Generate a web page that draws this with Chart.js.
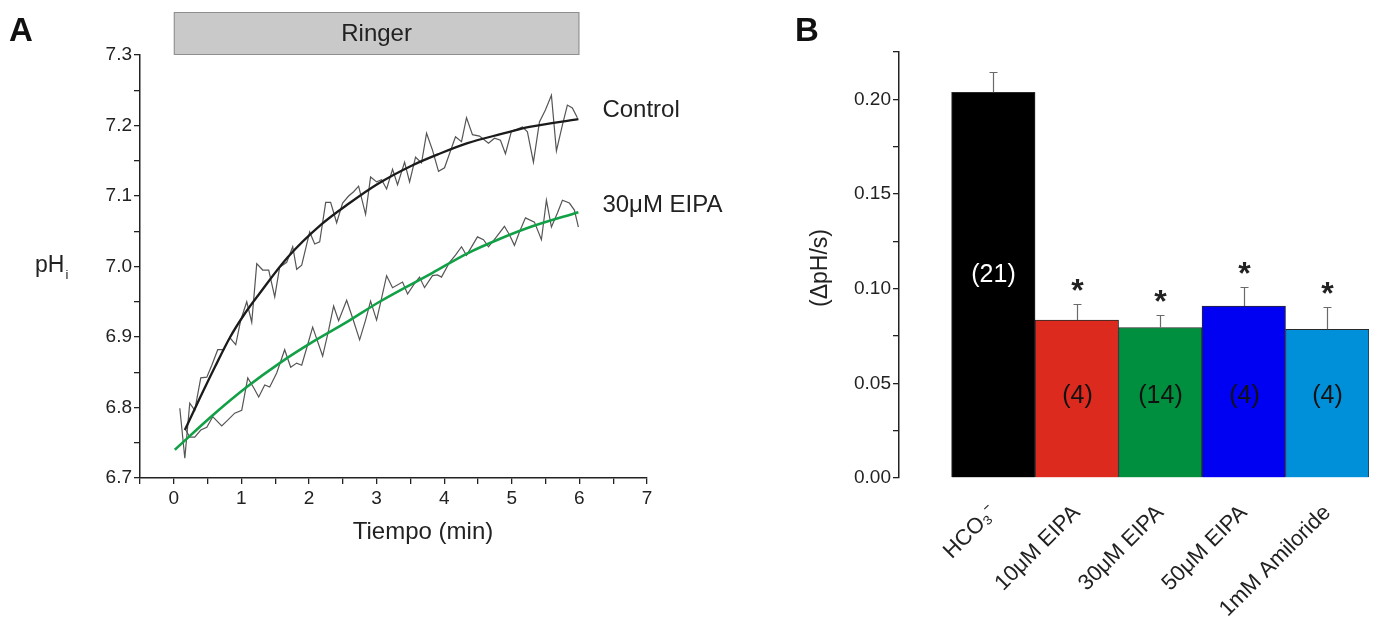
<!DOCTYPE html>
<html>
<head>
<meta charset="utf-8">
<script src="https://cdn.jsdelivr.net/npm/chart.js@4.4.1/dist/chart.umd.min.js"></script>
<style>
  html, body { margin: 0; padding: 0; background: #fff; }
  #wrap { position: relative; width: 1374px; height: 628px; overflow: hidden; background: #fff; }
  #cA { position: absolute; left: 0; top: 0; }
  #cB { position: absolute; left: 700px; top: 0; }
  .panel { position: absolute; font: bold 33px "Liberation Sans", Arial, sans-serif; color: #111; line-height: 1; }
</style>
</head>
<body>
<div id="wrap">
  <canvas id="cA" width="790" height="628"></canvas>
  <canvas id="cB" width="674" height="628"></canvas>
  <div class="panel" style="left:9px;top:13px">A</div>
  <div class="panel" style="left:795px;top:13px">B</div>
</div>
<script>
// ---- Panel A: pHi recovery traces (time in min) ----
const ctrlTime = [0.089,0.163,0.236,0.310,0.399,0.488,0.562,0.650,0.739,0.828,0.916,0.990,1.079,1.153,1.227,1.315,1.404,1.493,1.566,1.670,1.759,1.818,1.892,2.010,2.084,2.158,2.247,2.320,2.409,2.497,2.586,2.660,2.734,2.837,2.911,3.000,3.074,3.148,3.236,3.310,3.414,3.488,3.576,3.665,3.739,3.827,3.916,4.005,4.167,4.256,4.330,4.418,4.522,4.655,4.744,4.832,4.906,4.995,5.083,5.157,5.231,5.320,5.409,5.497,5.586,5.660,5.749,5.822,5.896,5.970];
const ctrlPH = [6.799,6.728,6.806,6.796,6.842,6.843,6.860,6.882,6.882,6.899,6.889,6.924,6.950,6.921,7.004,6.995,6.995,6.957,6.999,7.006,7.028,6.996,7.002,7.049,7.032,7.035,7.091,7.091,7.062,7.090,7.100,7.106,7.114,7.074,7.127,7.120,7.123,7.110,7.138,7.116,7.148,7.120,7.155,7.147,7.189,7.165,7.135,7.140,7.184,7.177,7.211,7.187,7.185,7.175,7.182,7.179,7.160,7.192,7.195,7.198,7.191,7.148,7.205,7.222,7.243,7.164,7.201,7.229,7.225,7.211];

const eipaTime = [0.177,0.236,0.310,0.399,0.488,0.576,0.709,0.798,0.901,1.005,1.094,1.182,1.256,1.345,1.419,1.522,1.640,1.729,1.818,1.892,1.980,2.054,2.202,2.291,2.364,2.438,2.557,2.645,2.749,2.837,2.911,3.000,3.074,3.148,3.236,3.384,3.458,3.547,3.635,3.709,3.827,3.901,3.960,4.079,4.167,4.256,4.330,4.418,4.492,4.581,4.655,4.773,4.891,4.965,5.039,5.113,5.202,5.335,5.438,5.512,5.586,5.675,5.749,5.852,5.926,5.985];
const eipaPH = [6.768,6.758,6.758,6.768,6.772,6.787,6.774,6.782,6.792,6.796,6.842,6.828,6.815,6.832,6.829,6.849,6.882,6.857,6.863,6.860,6.889,6.914,6.873,6.910,6.944,6.923,6.952,6.927,6.896,6.924,6.951,6.924,6.955,6.987,6.970,6.978,6.961,6.974,6.985,6.970,6.987,6.988,6.985,7.006,7.016,7.028,7.016,7.030,7.042,7.038,7.028,7.042,7.057,7.045,7.030,7.049,7.069,7.063,7.038,7.094,7.056,7.076,7.094,7.090,7.080,7.056];

// fitted recovery curves
const ctrlFitTime = [0.163,0.384,0.606,0.828,1.049,1.271,1.685,2.187,2.601,3.015,3.517,3.931,4.345,4.847,5.261,5.985];
const ctrlFitPH = [6.768,6.813,6.857,6.899,6.933,6.962,7.013,7.060,7.090,7.117,7.143,7.160,7.175,7.188,7.198,7.209];
const eipaFitTime = [0.015,0.576,1.079,1.566,2.054,2.557,3.044,3.827,4.330,4.818,5.305,5.985];
const eipaFitPH = [6.740,6.789,6.829,6.863,6.893,6.921,6.950,6.991,7.018,7.039,7.057,7.077];

const seriesNames = ['Control', '30μM EIPA'];
const ringerPeriod = [0, 6];

// ---- Panel B: recovery rate per condition ----
const categories = ['HCO₃⁻', '10μM EIPA', '30μM EIPA', '50μM EIPA', '1mM Amiloride'];
const rates = [0.2037, 0.0834, 0.0795, 0.0908, 0.0785];
const rateSEM = [0.0105, 0.0084, 0.0065, 0.0100, 0.0117];
const nCells = ['(21)', '(4)', '(14)', '(4)', '(4)'];
const significant = [false, true, true, true, true];
const barColors = ['#000000', '#dc2a1f', '#008f3e', '#0000f2', '#0090da'];

const FONT = '"Liberation Sans", Arial, sans-serif';
Chart.defaults.font.family = FONT;
Chart.defaults.color = '#222';

const pts = (xs, ys) => xs.map((t, i) => ({ x: t, y: ys[i] }));
const near = (v, step) => Math.abs(v / step - Math.round(v / step)) < 1e-6;

const panelAOverlay = {
  id: 'panelAOverlay',
  afterDraw(chart) {
    const { ctx, chartArea, scales: { x, y } } = chart;
    ctx.save();
    // solution bar
    const x0 = x.getPixelForValue(ringerPeriod[0]);
    const x1 = x.getPixelForValue(ringerPeriod[1]);
    ctx.fillStyle = '#c9c9c9';
    ctx.strokeStyle = '#8e8e8e';
    ctx.lineWidth = 1;
    ctx.fillRect(x0, 12, x1 - x0, chartArea.top - 12);
    ctx.strokeRect(x0 + 0.5, 12.5, x1 - x0 - 1, chartArea.top - 13);
    ctx.fillStyle = '#222';
    ctx.font = '24px ' + FONT;
    ctx.textAlign = 'center';
    ctx.textBaseline = 'middle';
    ctx.fillText('Ringer', (x0 + x1) / 2, 34);

    // series names
    ctx.textAlign = 'left';
    ctx.font = '24px ' + FONT;
    ctx.fillText(seriesNames[0], x.getPixelForValue(6.34), y.getPixelForValue(7.221));
    ctx.fillText(seriesNames[1], x.getPixelForValue(6.34), y.getPixelForValue(7.087));

    // axis titles
    ctx.font = '24px ' + FONT;
    ctx.textAlign = 'center';
    ctx.fillText('Tiempo (min)', 423, 532);
    ctx.textAlign = 'left';
    ctx.font = '23px ' + FONT;
    ctx.fillText('pH', 35, 266);
    const w = ctx.measureText('pH').width;
    ctx.font = '13px ' + FONT;
    ctx.fillText('i', 35 + w + 1, 275);
    ctx.restore();
  }
};

new Chart(document.getElementById('cA'), {
  type: 'line',
  data: {
    datasets: [
      { data: pts(ctrlFitTime, ctrlFitPH), borderColor: '#1b1b1b', borderWidth: 2.3, pointRadius: 0, cubicInterpolationMode: 'monotone' },
      { data: pts(eipaFitTime, eipaFitPH), borderColor: '#12a047', borderWidth: 2.6, pointRadius: 0, cubicInterpolationMode: 'monotone' },
      { data: pts(ctrlTime, ctrlPH), borderColor: '#555555', borderWidth: 1.2, pointRadius: 0, tension: 0 },
      { data: pts(eipaTime, eipaPH), borderColor: '#555555', borderWidth: 1.2, pointRadius: 0, tension: 0 }
    ]
  },
  options: {
    responsive: false,
    animation: false,
    events: [],
    layout: { padding: { top: 55, right: 143, left: 0, bottom: 0 } },
    plugins: { legend: { display: false }, tooltip: { enabled: false } },
    scales: {
      x: {
        type: 'linear', min: -0.5, max: 7,
        afterFit: s => { s.height = 150; },
        border: { color: '#222', width: 1.5 },
        grid: { drawOnChartArea: false, tickLength: 6, color: '#222', lineWidth: 1.3 },
        ticks: { stepSize: 0.5, padding: 3, font: { size: 19 }, color: '#222', maxRotation: 0, autoSkip: false,
                 callback: v => (near(v, 1) && v >= 0) ? String(Math.round(v)) : '' }
      },
      y: {
        type: 'linear', min: 6.7, max: 7.3,
        afterFit: s => { s.width = 140; },
        border: { color: '#222', width: 1.5 },
        grid: { drawOnChartArea: false, tickLength: 6, color: '#222', lineWidth: 1.3 },
        ticks: { stepSize: 0.05, padding: 2, font: { size: 19 }, color: '#222', autoSkip: false,
                 callback: v => near(v, 0.1) ? v.toFixed(1) : '' }
      }
    }
  },
  plugins: [panelAOverlay]
});

const panelBOverlay = {
  id: 'panelBOverlay',
  afterDatasetsDraw(chart, args, opts) {
    const { ctx, scales: { y } } = chart;
    const meta = chart.getDatasetMeta(0);
    ctx.save();
    meta.data.forEach((bar, i) => {
      const cx = Math.round(bar.x) + 0.5;
      const top = y.getPixelForValue(rates[i]);
      const et = Math.round(y.getPixelForValue(rates[i] + rateSEM[i])) + 0.5;
      ctx.strokeStyle = '#6a6a6a';
      ctx.lineWidth = 1.2;
      ctx.beginPath();
      ctx.moveTo(cx, top);
      ctx.lineTo(cx, et);
      ctx.moveTo(cx - 4, et);
      ctx.lineTo(cx + 4, et);
      ctx.stroke();
      if (significant[i]) {
        ctx.fillStyle = '#222';
        ctx.font = 'bold 32px ' + FONT;
        ctx.textAlign = 'center';
        ctx.textBaseline = 'alphabetic';
        ctx.fillText('*', cx, et - 4);
      }
      ctx.fillStyle = i === 0 ? '#ffffff' : '#111';
      ctx.font = '25px ' + FONT;
      ctx.textAlign = 'center';
      ctx.textBaseline = 'middle';
      ctx.fillText(nCells[i], cx, y.getPixelForValue(opts.countAt[i]));
    });
    // y title
    ctx.fillStyle = '#222';
    ctx.font = '23px ' + FONT;
    ctx.translate(121, 268);
    ctx.rotate(-Math.PI / 2);
    ctx.textAlign = 'center';
    ctx.textBaseline = 'middle';
    ctx.fillText('(ΔpH/s)', 0, 0);
    ctx.restore();
  }
};

new Chart(document.getElementById('cB'), {
  type: 'bar',
  data: {
    datasets: [{
      data: rates.map((r, i) => ({ x: i, y: r })),
      backgroundColor: barColors,
      borderColor: '#2a2a2a',
      borderWidth: 1,
      barPercentage: 1,
      categoryPercentage: 1
    }]
  },
  options: {
    responsive: false,
    animation: false,
    events: [],
    layout: { padding: { top: 52, right: 5, left: 0, bottom: 0 } },
    plugins: {
      legend: { display: false }, tooltip: { enabled: false },
      panelBOverlay: { countAt: [0.107, 0.043, 0.043, 0.043, 0.043] }
    },
    scales: {
      x: {
        type: 'linear', min: -1.13, max: 4.5, offset: false,
        afterFit: s => { s.height = 150; },
        border: { display: false },
        grid: { display: false },
        ticks: { stepSize: 1, includeBounds: false, autoSkip: false, minRotation: 45, maxRotation: 45,
                 padding: 14, font: { size: 22 }, color: '#222',
                 callback: v => (Number.isInteger(v) && v >= 0 && v < categories.length) ? categories[v] : '' }
      },
      y: {
        type: 'linear', min: 0, max: 0.225,
        afterFit: s => { s.width = 199; },
        border: { color: '#222', width: 1.5 },
        grid: { drawOnChartArea: false, tickLength: 6, color: '#222', lineWidth: 1.3 },
        ticks: { stepSize: 0.025, padding: 2, font: { size: 19 }, color: '#222', autoSkip: false,
                 callback: v => near(v, 0.05) ? v.toFixed(2) : '' }
      }
    }
  },
  plugins: [panelBOverlay]
});
</script>
</body>
</html>
